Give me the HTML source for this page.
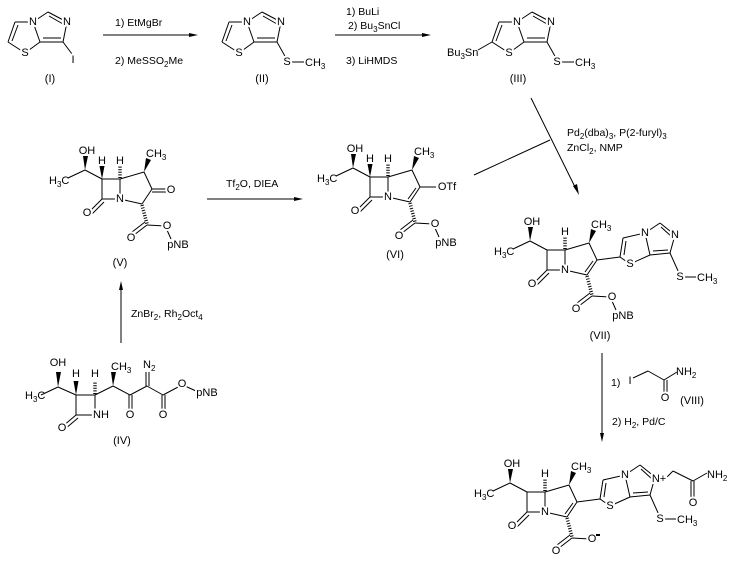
<!DOCTYPE html>
<html><head><meta charset="utf-8"><style>
html,body{margin:0;padding:0;background:#fff;}
svg{display:block;}
text{font-family:"Liberation Sans",Arial,sans-serif;font-size:11px;fill:#000;}
.a{text-anchor:middle;dominant-baseline:central;paint-order:stroke;stroke:#fff;stroke-width:4px;stroke-linejoin:round;}
.r{font-size:10.5px;}
.s{font-size:8px;}
line,path.b{stroke:#000;stroke-width:1;fill:none;}
.h{stroke-width:3.5;stroke-dasharray:1 1.6;}
</style></head><body>
<svg width="730" height="562" viewBox="0 0 730 562" xmlns="http://www.w3.org/2000/svg">
<rect width="730" height="562" fill="#fff"/>

<!-- ===== Compound I ===== -->
<g transform="translate(0,0)">
<line x1="15" y1="22" x2="33" y2="22"/><line x1="33" y1="22" x2="48" y2="12"/>
<line x1="48" y1="12" x2="67" y2="22"/><line x1="49" y1="16" x2="63" y2="24"/>
<line x1="67" y1="22" x2="63" y2="42"/><line x1="63" y1="42" x2="40" y2="42"/><line x1="61" y1="38" x2="43" y2="38"/>
<line x1="40" y1="42" x2="33" y2="22"/><line x1="40" y1="42" x2="25" y2="53"/><line x1="25" y1="53" x2="8" y2="42"/>
<line x1="8" y1="42" x2="15" y2="22"/><line x1="12" y1="41" x2="18" y2="25"/>
<line x1="63" y1="42" x2="72" y2="54"/>
<text class="a" x="33" y="22">N</text><text class="a" x="67" y="22">N</text><text class="a" x="25" y="53">S</text><text class="a" x="73" y="60">I</text>
<text class="a" x="50" y="79">(I)</text>
</g>

<!-- arrow 1 -->
<line x1="103" y1="35" x2="193" y2="35"/><polygon points="198,35 189,33 189,37"/>
<text class="r" x="115" y="26">1) EtMgBr</text>
<text class="r" x="115" y="64">2) MeSSO<tspan class="s" dy="3">2</tspan><tspan dy="-3">Me</tspan></text>

<!-- ===== Compound II ===== -->
<g transform="translate(214,0)">
<line x1="15" y1="22" x2="33" y2="22"/><line x1="33" y1="22" x2="48" y2="12"/>
<line x1="48" y1="12" x2="67" y2="22"/><line x1="49" y1="16" x2="63" y2="24"/>
<line x1="67" y1="22" x2="63" y2="42"/><line x1="63" y1="42" x2="40" y2="42"/><line x1="61" y1="38" x2="43" y2="38"/>
<line x1="40" y1="42" x2="33" y2="22"/><line x1="40" y1="42" x2="25" y2="53"/><line x1="25" y1="53" x2="8" y2="42"/>
<line x1="8" y1="42" x2="15" y2="22"/><line x1="12" y1="41" x2="18" y2="25"/>
<line x1="63" y1="42" x2="72" y2="58"/><line x1="78" y1="62" x2="90" y2="62"/>
<text class="a" x="33" y="22">N</text><text class="a" x="67" y="22">N</text><text class="a" x="25" y="53">S</text>
<text class="a" x="73" y="62">S</text><text x="91" y="66">CH<tspan class="s" dy="3">3</tspan></text>
<text class="a" x="48" y="79">(II)</text>
</g>

<!-- arrow 2 -->
<line x1="335" y1="35" x2="426" y2="35"/><polygon points="431,35 422,33 422,37"/>
<text class="r" x="346" y="15">1) BuLi</text>
<text class="r" x="348" y="29">2) Bu<tspan class="s" dy="3">3</tspan><tspan dy="-3">SnCl</tspan></text>
<text class="r" x="346" y="64">3) LiHMDS</text>

<!-- ===== Compound III ===== -->
<g transform="translate(484,0)">
<line x1="15" y1="22" x2="33" y2="22"/><line x1="33" y1="22" x2="48" y2="12"/>
<line x1="48" y1="12" x2="67" y2="22"/><line x1="49" y1="16" x2="63" y2="24"/>
<line x1="67" y1="22" x2="63" y2="42"/><line x1="63" y1="42" x2="40" y2="42"/><line x1="61" y1="38" x2="43" y2="38"/>
<line x1="40" y1="42" x2="33" y2="22"/><line x1="40" y1="42" x2="25" y2="53"/><line x1="25" y1="53" x2="8" y2="42"/>
<line x1="8" y1="42" x2="15" y2="22"/><line x1="12" y1="41" x2="18" y2="25"/>
<line x1="63" y1="42" x2="72" y2="58"/><line x1="78" y1="62" x2="90" y2="62"/>
<line x1="8" y1="42" x2="-6" y2="50"/>
<text class="a" x="33" y="22">N</text><text class="a" x="67" y="22">N</text><text class="a" x="25" y="53">S</text>
<text class="a" x="73" y="62">S</text><text x="91" y="66">CH<tspan class="s" dy="3">3</tspan></text>
<text x="-37" y="56">Bu<tspan class="s" dy="3">3</tspan><tspan dy="-3">Sn</tspan></text>
<text class="a" x="34" y="79">(III)</text>
</g>

<!-- Stille arrow -->
<line x1="531" y1="98" x2="576" y2="189"/><polygon points="579,195 573,186 577,184"/>
<line x1="474" y1="175" x2="550" y2="140"/>
<text class="r" x="567" y="136">Pd<tspan class="s" dy="3">2</tspan><tspan dy="-3">(dba)</tspan><tspan class="s" dy="3">3</tspan><tspan dy="-3">, P(2-furyl)</tspan><tspan class="s" dy="3">3</tspan></text>
<text class="r" x="567" y="151">ZnCl<tspan class="s" dy="3">2</tspan><tspan dy="-3">, NMP</tspan></text>

<!-- ===== Compound V ===== -->
<g transform="translate(120,199)">
<line x1="0" y1="0" x2="-18" y2="0"/><line x1="-18" y1="0" x2="-18" y2="-20"/><line x1="-18" y1="-20" x2="0" y2="-20"/><line x1="0" y1="-20" x2="0" y2="0"/>
<line x1="-18" y1="0" x2="-31" y2="13"/><line x1="-16" y1="3" x2="-28" y2="15"/>
<line x1="0" y1="0" x2="22" y2="5"/><line x1="0" y1="-20" x2="24" y2="-27"/><line x1="24" y1="-27" x2="32" y2="-10"/><line x1="32" y1="-10" x2="22" y2="5"/>
<line x1="-18" y1="-20" x2="-35" y2="-29"/><line x1="-35" y1="-29" x2="-52" y2="-21"/>
<polygon points="-35,-29 -37,-43 -32,-43"/>
<polygon points="-18,-20 -20.5,-33 -15.5,-33"/>
<line class="h" x1="0" y1="-21" x2="0" y2="-33"/>
<polygon points="24,-27 26,-41 31,-39"/>
<line class="h" x1="22" y1="6" x2="27" y2="25"/>
<line x1="27" y1="26" x2="14" y2="36"/><line x1="25" y1="23" x2="12" y2="33"/>
<line x1="27" y1="26" x2="45" y2="27"/><line x1="47" y1="31" x2="51" y2="40"/>
<line x1="32" y1="-10" x2="46" y2="-10"/><line x1="32" y1="-7" x2="46" y2="-7"/>
<text class="a" x="0" y="0">N</text><text class="a" x="-33" y="14">O</text>
<text class="a" x="-33" y="-48">OH</text><text x="-71" y="-15">H<tspan class="s" dy="3">3</tspan><tspan dy="-3">C</tspan></text>
<text class="a" x="-18" y="-38">H</text><text class="a" x="0" y="-38">H</text>
<text x="26" y="-42">CH<tspan class="s" dy="3">3</tspan></text>
<text class="a" x="51" y="-9">O</text>
<text class="a" x="11" y="39">O</text><text class="a" x="47" y="27">O</text><text class="a" x="58" y="46">pNB</text>
<text class="a" x="0" y="64">(V)</text>
</g>

<!-- arrow V->VI -->
<line x1="207" y1="199" x2="298" y2="199"/><polygon points="303,199 294,197 294,201"/>
<text class="r" x="226" y="187">Tf<tspan class="s" dy="3">2</tspan><tspan dy="-3">O, DIEA</tspan></text>

<!-- ===== Compound VI ===== -->
<g transform="translate(388,197)">
<line x1="0" y1="0" x2="-18" y2="0"/><line x1="-18" y1="0" x2="-18" y2="-20"/><line x1="-18" y1="-20" x2="0" y2="-20"/><line x1="0" y1="-20" x2="0" y2="0"/>
<line x1="-18" y1="0" x2="-31" y2="13"/><line x1="-16" y1="3" x2="-28" y2="15"/>
<line x1="0" y1="0" x2="22" y2="5"/><line x1="0" y1="-20" x2="24" y2="-27"/><line x1="24" y1="-27" x2="32" y2="-10"/><line x1="32" y1="-10" x2="22" y2="5"/><line x1="28" y1="-9" x2="20" y2="2"/>
<line x1="-18" y1="-20" x2="-35" y2="-29"/><line x1="-35" y1="-29" x2="-52" y2="-21"/>
<polygon points="-35,-29 -37,-43 -32,-43"/>
<polygon points="-18,-20 -20.5,-33 -15.5,-33"/>
<line class="h" x1="0" y1="-21" x2="0" y2="-33"/>
<polygon points="24,-27 26,-41 31,-39"/>
<line class="h" x1="22" y1="6" x2="27" y2="25"/>
<line x1="27" y1="26" x2="14" y2="36"/><line x1="25" y1="23" x2="12" y2="33"/>
<line x1="27" y1="26" x2="45" y2="27"/><line x1="47" y1="31" x2="51" y2="40"/>
<line x1="32" y1="-10" x2="48" y2="-10"/>
<text class="a" x="0" y="0">N</text><text class="a" x="-33" y="14">O</text>
<text class="a" x="-33" y="-48">OH</text><text x="-71" y="-15">H<tspan class="s" dy="3">3</tspan><tspan dy="-3">C</tspan></text>
<text class="a" x="-18" y="-38">H</text><text class="a" x="0" y="-38">H</text>
<text x="26" y="-42">CH<tspan class="s" dy="3">3</tspan></text>
<text class="a" x="59" y="-10">OTf</text>
<text class="a" x="11" y="39">O</text><text class="a" x="47" y="27">O</text><text class="a" x="58" y="46">pNB</text>
<text class="a" x="7" y="58">(VI)</text>
</g>

<!-- ===== Compound VII ===== -->
<g transform="translate(565,270)">
<line x1="0" y1="0" x2="-18" y2="0"/><line x1="-18" y1="0" x2="-18" y2="-20"/><line x1="-18" y1="-20" x2="0" y2="-20"/><line x1="0" y1="-20" x2="0" y2="0"/>
<line x1="-18" y1="0" x2="-31" y2="13"/><line x1="-16" y1="3" x2="-28" y2="15"/>
<line x1="0" y1="0" x2="22" y2="5"/><line x1="0" y1="-20" x2="24" y2="-27"/><line x1="24" y1="-27" x2="32" y2="-10"/><line x1="32" y1="-10" x2="22" y2="5"/><line x1="28" y1="-9" x2="20" y2="2"/>
<line x1="-18" y1="-20" x2="-35" y2="-29"/><line x1="-35" y1="-29" x2="-52" y2="-21"/>
<polygon points="-35,-29 -37,-43 -32,-43"/>
<line class="h" x1="0" y1="-21" x2="0" y2="-33"/>
<polygon points="24,-27 26,-41 31,-39"/>
<line class="h" x1="22" y1="6" x2="27" y2="25"/>
<line x1="27" y1="26" x2="14" y2="36"/><line x1="25" y1="23" x2="12" y2="33"/>
<line x1="27" y1="26" x2="45" y2="27"/><line x1="47" y1="31" x2="51" y2="40"/>
<line x1="32" y1="-10" x2="55" y2="-13"/>
<line x1="55" y1="-13" x2="58" y2="-32"/><line x1="59" y1="-15" x2="61" y2="-29"/>
<line x1="58" y1="-32" x2="80" y2="-37"/><line x1="80" y1="-37" x2="85" y2="-15"/><line x1="85" y1="-15" x2="65" y2="-6"/><line x1="65" y1="-6" x2="55" y2="-13"/>
<line x1="80" y1="-37" x2="95" y2="-47"/><line x1="95" y1="-47" x2="110" y2="-35"/><line x1="96" y1="-43" x2="107" y2="-33"/>
<line x1="110" y1="-35" x2="105" y2="-17"/><line x1="105" y1="-17" x2="85" y2="-15"/><line x1="103" y1="-20" x2="88" y2="-19"/>
<line x1="105" y1="-17" x2="114" y2="3"/><line x1="120" y1="7" x2="131" y2="7"/>
<text class="a" x="0" y="0">N</text><text class="a" x="-33" y="14">O</text>
<text class="a" x="-33" y="-48">OH</text><text x="-71" y="-15">H<tspan class="s" dy="3">3</tspan><tspan dy="-3">C</tspan></text>
<text class="a" x="0" y="-38">H</text>
<text x="26" y="-42">CH<tspan class="s" dy="3">3</tspan></text>
<text class="a" x="11" y="39">O</text><text class="a" x="47" y="27">O</text><text class="a" x="58" y="46">pNB</text>
<text class="a" x="80" y="-37">N</text><text class="a" x="65" y="-6">S</text><text class="a" x="110" y="-35">N</text>
<text class="a" x="115" y="7">S</text><text x="132" y="11">CH<tspan class="s" dy="3">3</tspan></text>
<text class="a" x="35" y="66">(VII)</text>
</g>

<!-- arrow VII -> final -->
<line x1="602" y1="353" x2="602" y2="436"/><polygon points="602,442 600,433 604,433"/>
<text class="r" x="611" y="386">1)</text>
<line x1="633" y1="378" x2="648" y2="371"/><line x1="648" y1="371" x2="664" y2="380"/><line x1="664" y1="380" x2="677" y2="372"/>
<line x1="664" y1="380" x2="664" y2="394"/><line x1="667" y1="380" x2="667" y2="394"/>
<text class="a" x="630" y="381">I</text>
<text x="676" y="375">NH<tspan class="s" dy="3">2</tspan></text>
<text class="a" x="665" y="398">O</text>
<text class="a" x="692" y="401">(VIII)</text>
<text class="r" x="612" y="425">2) H<tspan class="s" dy="3">2</tspan><tspan dy="-3">, Pd/C</tspan></text>

<!-- ===== Compound IV ===== -->
<g>
<line x1="58" y1="387" x2="76" y2="395"/><line x1="58" y1="387" x2="41" y2="395"/>
<polygon points="58,387 56,372 61,372"/>
<line x1="76" y1="395" x2="95" y2="395"/><polygon points="76,395 73.5,381 78.5,381"/>
<line class="h" x1="95" y1="394" x2="95" y2="381"/>
<line x1="76" y1="395" x2="76" y2="415"/><line x1="76" y1="415" x2="95" y2="415"/><line x1="95" y1="415" x2="95" y2="395"/>
<line x1="76" y1="415" x2="63" y2="426"/><line x1="78" y1="418" x2="65" y2="429"/>
<line x1="95" y1="395" x2="113" y2="386"/><polygon points="113,386 111,372 116,372"/>
<line x1="113" y1="386" x2="130" y2="395"/>
<line x1="129" y1="395" x2="129" y2="411"/><line x1="132" y1="395" x2="132" y2="411"/>
<line x1="130" y1="395" x2="147" y2="386"/>
<line x1="146" y1="386" x2="146" y2="372"/><line x1="149" y1="386" x2="149" y2="372"/>
<line x1="147" y1="386" x2="163" y2="395"/>
<line x1="162" y1="395" x2="162" y2="411"/><line x1="165" y1="395" x2="165" y2="411"/>
<line x1="163" y1="395" x2="180" y2="386"/><line x1="185" y1="386" x2="196" y2="391"/>
<text class="a" x="58" y="363">OH</text>
<text x="25" y="399">H<tspan class="s" dy="3">3</tspan><tspan dy="-3">C</tspan></text>
<text class="a" x="76" y="374">H</text><text class="a" x="95" y="374">H</text>
<text class="a" x="101" y="415">NH</text><text class="a" x="62" y="428">O</text>
<text x="111" y="370">CH<tspan class="s" dy="3">3</tspan></text>
<text class="a" x="130" y="415">O</text>
<text x="143" y="368">N<tspan class="s" dy="3">2</tspan></text>
<text class="a" x="163" y="415">O</text>
<text class="a" x="182" y="384">O</text>
<text class="a" x="207" y="393">pNB</text>
<text class="a" x="122" y="441">(IV)</text>
</g>

<!-- arrow IV -> V -->
<line x1="121" y1="343" x2="121" y2="287"/><polygon points="121,281 119,290 123,290"/>
<text class="r" x="131" y="317">ZnBr<tspan class="s" dy="3">2</tspan><tspan dy="-3">, Rh</tspan><tspan class="s" dy="3">2</tspan><tspan dy="-3">Oct</tspan><tspan class="s" dy="3">4</tspan></text>

<!-- ===== Final product ===== -->
<g transform="translate(545,512)">
<line x1="0" y1="0" x2="-18" y2="0"/><line x1="-18" y1="0" x2="-18" y2="-20"/><line x1="-18" y1="-20" x2="0" y2="-20"/><line x1="0" y1="-20" x2="0" y2="0"/>
<line x1="-18" y1="0" x2="-31" y2="13"/><line x1="-16" y1="3" x2="-28" y2="15"/>
<line x1="0" y1="0" x2="22" y2="5"/><line x1="0" y1="-20" x2="24" y2="-27"/><line x1="24" y1="-27" x2="32" y2="-10"/><line x1="32" y1="-10" x2="22" y2="5"/><line x1="28" y1="-9" x2="20" y2="2"/>
<line x1="-18" y1="-20" x2="-35" y2="-29"/><line x1="-35" y1="-29" x2="-52" y2="-21"/>
<polygon points="-35,-29 -37,-43 -32,-43"/>
<line class="h" x1="0" y1="-21" x2="0" y2="-33"/>
<polygon points="24,-27 26,-41 31,-39"/>
<line class="h" x1="22" y1="6" x2="27" y2="25"/>
<line x1="27" y1="26" x2="14" y2="36"/><line x1="25" y1="23" x2="12" y2="33"/>
<line x1="27" y1="26" x2="45" y2="27"/>
<line x1="32" y1="-10" x2="55" y2="-13"/>
<line x1="55" y1="-13" x2="58" y2="-32"/><line x1="59" y1="-15" x2="61" y2="-29"/>
<line x1="58" y1="-32" x2="80" y2="-37"/><line x1="80" y1="-37" x2="85" y2="-15"/><line x1="85" y1="-15" x2="65" y2="-6"/><line x1="65" y1="-6" x2="55" y2="-13"/>
<line x1="80" y1="-37" x2="95" y2="-47"/><line x1="95" y1="-47" x2="110" y2="-35"/><line x1="96" y1="-43" x2="107" y2="-33"/>
<line x1="110" y1="-35" x2="105" y2="-17"/><line x1="105" y1="-17" x2="85" y2="-15"/><line x1="103" y1="-20" x2="88" y2="-19"/>
<line x1="105" y1="-17" x2="114" y2="3"/><line x1="120" y1="7" x2="131" y2="7"/>
<line x1="120" y1="-33" x2="128" y2="-41"/><line x1="128" y1="-41" x2="148" y2="-31"/><line x1="148" y1="-31" x2="162" y2="-39"/>
<line x1="146" y1="-31" x2="146" y2="-13"/><line x1="149" y1="-31" x2="149" y2="-13"/>
<text class="a" x="0" y="0">N</text><text class="a" x="-33" y="14">O</text>
<text class="a" x="-33" y="-48">OH</text><text x="-71" y="-15">H<tspan class="s" dy="3">3</tspan><tspan dy="-3">C</tspan></text>
<text class="a" x="0" y="-38">H</text>
<text x="26" y="-42">CH<tspan class="s" dy="3">3</tspan></text>
<text class="a" x="11" y="39">O</text><text class="a" x="47" y="27">O</text>
<rect x="51" y="22" width="4" height="2"/>
<text class="a" x="80" y="-37">N</text><text class="a" x="65" y="-6">S</text><text class="a" x="114" y="-33">N+</text>
<text class="a" x="115" y="7">S</text><text x="132" y="11">CH<tspan class="s" dy="3">3</tspan></text>
<text x="162" y="-34">NH<tspan class="s" dy="3">2</tspan></text>
<text class="a" x="148" y="-9">O</text>
</g>
</svg>
</body></html>
